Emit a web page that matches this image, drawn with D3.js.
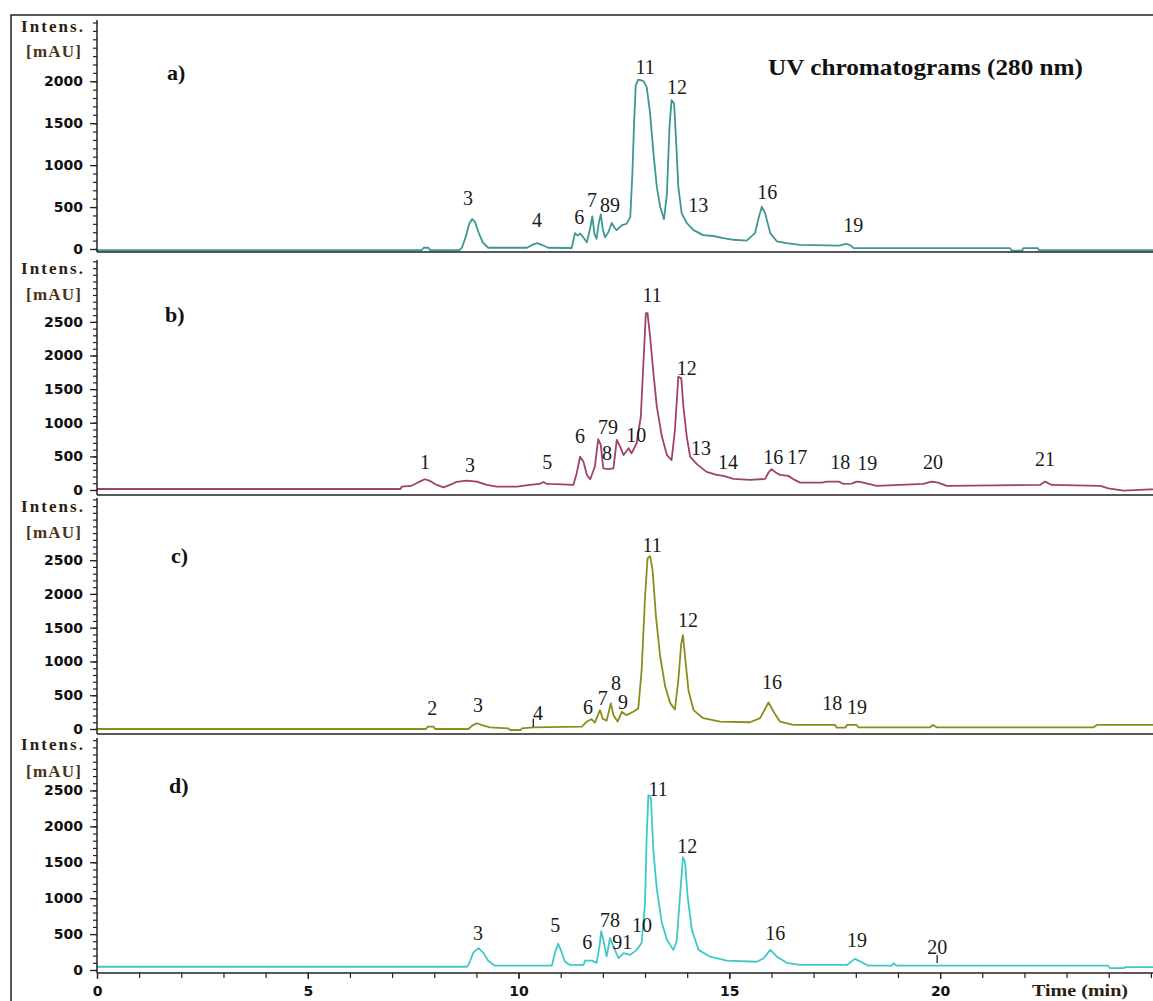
<!DOCTYPE html>
<html>
<head>
<meta charset="utf-8">
<script src="https://cdn.jsdelivr.net/npm/d3@7"></script>
<style>
  html, body { margin: 0; padding: 0; background: #fff; }
  svg { display: block; }
</style>
</head>
<body>
<svg id="chart" width="1153" height="1001"></svg>
<script>
// ---- Chromatogram traces: [retention time (min), intensity (mAU)] ----
const traceA = [
  [0, -15], [7.70, -15], [7.75, 15], [7.86, 15], [7.90, -15], [8.60, -15], [8.66, 20], [8.75, 150],
  [8.83, 300], [8.90, 357], [8.97, 320], [9.05, 200], [9.15, 80], [9.28, 15], [10.20, 15], [10.35, 55],
  [10.44, 70], [10.55, 50], [10.70, 15], [11.26, 12], [11.34, 190], [11.40, 160], [11.46, 185],
  [11.52, 150], [11.62, 80], [11.70, 250], [11.75, 390], [11.80, 180], [11.85, 120], [11.90, 300],
  [11.95, 415], [12.00, 230], [12.05, 140], [12.13, 200], [12.21, 310], [12.28, 250], [12.33, 225],
  [12.45, 285], [12.56, 300], [12.65, 380], [12.70, 900], [12.74, 1500], [12.78, 1950], [12.84, 2020],
  [12.96, 2005], [13.04, 1930], [13.12, 1620], [13.20, 1140], [13.28, 740], [13.36, 500], [13.45, 355],
  [13.52, 660], [13.58, 1456], [13.63, 1775], [13.69, 1735], [13.74, 1260], [13.79, 740], [13.87, 425],
  [13.99, 310], [14.15, 225], [14.38, 165], [14.62, 155], [14.86, 130], [15.10, 110], [15.41, 100],
  [15.61, 190], [15.70, 380], [15.77, 505], [15.85, 425], [15.97, 190], [16.13, 90], [16.36, 70],
  [16.68, 50], [17.60, 40], [17.72, 55], [17.79, 60], [17.88, 40], [17.95, 10], [21.66, 10],
  [21.70, -20], [21.95, -20], [21.97, 10], [22.32, 10], [22.35, -15], [25.05, -15]
];

const traceB = [
  [0, 15], [7.20, 15], [7.23, 50], [7.45, 60], [7.58, 100], [7.70, 140], [7.78, 160], [7.90, 135],
  [8.06, 75], [8.22, 40], [8.37, 75], [8.53, 120], [8.77, 140], [9.01, 125], [9.25, 75], [9.48, 50],
  [9.96, 50], [10.27, 75], [10.50, 90], [10.59, 120], [10.65, 95], [10.75, 90], [11.30, 75],
  [11.38, 250], [11.46, 495], [11.54, 420], [11.62, 225], [11.70, 160], [11.81, 345], [11.89, 755],
  [11.95, 670], [12.01, 320], [12.13, 310], [12.25, 320], [12.33, 745], [12.41, 645], [12.49, 520],
  [12.61, 620], [12.68, 545], [12.80, 695], [12.90, 1090], [12.96, 1860], [13.02, 2630], [13.06, 2630],
  [13.12, 2280], [13.20, 1735], [13.28, 1240], [13.40, 795], [13.52, 520], [13.63, 445], [13.71, 895],
  [13.79, 1685], [13.86, 1660], [13.91, 1240], [13.99, 795], [14.07, 495], [14.23, 385], [14.46, 270],
  [14.70, 225], [14.86, 210], [15.10, 165], [15.49, 150], [15.85, 165], [15.93, 260], [16.00, 310],
  [16.10, 260], [16.20, 225], [16.40, 210], [16.55, 150], [16.68, 110], [17.20, 110], [17.31, 125],
  [17.60, 125], [17.71, 90], [17.90, 95], [18.02, 125], [18.10, 120], [18.50, 60], [19.60, 90],
  [19.80, 125], [19.95, 110], [20.16, 60], [22.37, 75], [22.49, 125], [22.65, 75], [23.80, 60],
  [23.99, 25], [24.35, -10], [24.98, 10], [25.05, 10]
];

const traceC = [
  [0, 0], [7.80, 0], [7.85, 35], [7.98, 35], [8.02, 0], [8.81, 0], [8.90, 50], [9.01, 85], [9.17, 50],
  [9.32, 25], [9.76, 10], [9.80, -15], [10.05, -15], [10.08, 10], [10.35, 25], [11.50, 35], [11.62, 110],
  [11.73, 145], [11.81, 95], [11.93, 280], [12.00, 150], [12.09, 125], [12.19, 380], [12.25, 205],
  [12.35, 110], [12.45, 255], [12.56, 205], [12.72, 255], [12.84, 305], [12.92, 870], [13.00, 1955],
  [13.06, 2525], [13.12, 2560], [13.18, 2350], [13.26, 1660], [13.36, 1070], [13.48, 625], [13.60, 380],
  [13.71, 290], [13.79, 725], [13.86, 1270], [13.90, 1390], [13.95, 1070], [14.03, 575], [14.15, 280],
  [14.38, 160], [14.78, 110], [15.49, 100], [15.73, 160], [15.85, 300], [15.93, 395], [16.05, 255],
  [16.20, 110], [16.52, 60], [17.51, 60], [17.55, 20], [17.75, 20], [17.79, 60], [18.02, 60],
  [18.06, 25], [19.76, 25], [19.83, 60], [19.92, 25], [23.64, 25], [23.72, 60], [25.05, 60]
];

const traceD = [
  [0, 45], [8.77, 45], [8.81, 70], [8.93, 245], [9.05, 305], [9.17, 235], [9.28, 130], [9.44, 60],
  [10.79, 60], [10.87, 255], [10.94, 365], [11.02, 255], [11.10, 115], [11.22, 70], [11.54, 70],
  [11.58, 130], [11.74, 130], [11.85, 100], [11.92, 330], [11.96, 540], [12.01, 420], [12.09, 190],
  [12.17, 445], [12.25, 330], [12.37, 165], [12.49, 235], [12.65, 210], [12.80, 280], [12.92, 375],
  [13.00, 935], [13.04, 1870], [13.08, 2435], [13.14, 2390], [13.20, 1640], [13.28, 1125], [13.40, 655],
  [13.52, 420], [13.67, 280], [13.75, 400], [13.83, 1030], [13.90, 1570], [13.95, 1500], [14.01, 1030],
  [14.11, 560], [14.27, 280], [14.54, 185], [14.94, 130], [15.65, 115], [15.81, 160], [15.97, 280],
  [16.13, 185], [16.36, 100], [16.68, 70], [17.79, 70], [17.90, 120], [17.98, 155], [18.10, 120],
  [18.30, 60], [18.85, 60], [18.89, 95], [18.97, 60], [23.99, 60], [24.03, 25], [24.35, 25],
  [24.39, 40], [25.05, 40]
];

// ---- Peak numbers: [label, time (min), intensity (mAU) of label baseline] ----
const peaksA = [
  ["3", 8.80, 525], ["4", 10.44, 262], ["6", 11.44, 298], ["7", 11.74, 501], ["89", 12.17, 441],
  ["11", 13.00, 2086], ["12", 13.76, 1848], ["13", 14.26, 441], ["16", 15.90, 596], ["19", 17.94, 203]
];
const peaksB = [
  ["1", 7.78, 312], ["3", 8.85, 268], ["5", 10.68, 312], ["6", 11.46, 699], ["79", 12.12, 833],
  ["8", 12.10, 446], ["10", 12.79, 714], ["11", 13.17, 2796], ["12", 13.99, 1710], ["13", 14.33, 520],
  ["14", 14.97, 312], ["16", 16.04, 387], ["17", 16.61, 387], ["18", 17.63, 312], ["19", 18.27, 297],
  ["20", 19.83, 312], ["21", 22.49, 357]
];
const peaksC = [
  ["2", 7.95, 207], ["3", 9.04, 252], ["4", 10.46, 133], ["6", 11.65, 222], ["7", 12.00, 355],
  ["8", 12.31, 577], ["9", 12.48, 296], ["11", 13.17, 2621], ["12", 14.02, 1510], ["16", 16.01, 592],
  ["18", 17.44, 281], ["19", 18.03, 222]
];
const peaksD = [
  ["3", 9.04, 421], ["5", 10.87, 534], ["6", 11.63, 295], ["78", 12.17, 604], ["91", 12.46, 295],
  ["10", 12.93, 534], ["11", 13.31, 2429], ["12", 14.00, 1629], ["16", 16.09, 421], ["19", 18.03, 323],
  ["20", 19.93, 225]
];

// Integration markers: [time (min), low intensity, high intensity]
const markersC = [[10.35, 30, 150]];
const markersD = [[19.93, 98, 210]];

// Axis ticks
const timeMajorTicks = [0, 5, 10, 15, 20];
const timeMinorTicks = d3.range(0, 26, 1);
const panelNames = ["a)", "b)", "c)", "d)"];
const titleText = "UV chromatograms (280 nm)";

// ---- Layout ----
const svg = d3.select("#chart");
const axisLeftX = 97;
const x = d3.scaleLinear().domain([0, 25.05]).range([axisLeftX, 1153]);

const panels = [
  { trace: traceA, peaks: peaksA, markers: [], color: "#3c9893", yMax: 2730, labelMax: 2000,
    zeroY: 249, topY: 20, bottomY: 252, intensY: 32, mauY: 57, nameX: 167, nameY: 80 },
  { trace: traceB, peaks: peaksB, markers: [], color: "#a0406e", yMax: 3420, labelMax: 2500,
    zeroY: 490, topY: 260, bottomY: 495, intensY: 274, mauY: 300, nameX: 165, nameY: 322 },
  { trace: traceC, peaks: peaksC, markers: markersC, color: "#8c8c1c", yMax: 3420, labelMax: 2500,
    zeroY: 729, topY: 498, bottomY: 734, intensY: 512, mauY: 538, nameX: 171, nameY: 563 },
  { trace: traceD, peaks: peaksD, markers: markersD, color: "#3fc8c8", yMax: 3230, labelMax: 2500,
    zeroY: 970, topY: 738, bottomY: 973, intensY: 750, mauY: 777, nameX: 169, nameY: 793 }
];

// Outer frame (top and left edges)
svg.append("path")
  .attr("d", "M11,1001 L11,15 L1153,15")
  .attr("fill", "none").attr("stroke", "#222").attr("stroke-width", 1.5);

const line = d3.line().x(d => x(d[0]));

panels.forEach((p, i) => {
  const y = d3.scaleLinear().domain([0, p.yMax]).range([p.zeroY, p.topY]);
  const g = svg.append("g");

  // trace
  g.append("path")
    .datum(p.trace)
    .attr("d", line.y(d => y(d[1])))
    .attr("fill", "none")
    .attr("stroke", p.color)
    .attr("stroke-width", 1.8)
    .attr("stroke-linejoin", "round");

  // panel bottom line
  g.append("line")
    .attr("x1", axisLeftX).attr("x2", 1153)
    .attr("y1", p.bottomY).attr("y2", p.bottomY)
    .attr("stroke", "#222").attr("stroke-width", 1.6);

  // y axis line
  g.append("line")
    .attr("x1", axisLeftX).attr("x2", axisLeftX)
    .attr("y1", p.topY).attr("y2", p.bottomY)
    .attr("stroke", "#222").attr("stroke-width", 1.5);

  // minor ticks every 100 mAU
  const minor = g.append("g").attr("transform", `translate(${axisLeftX},0)`)
    .call(d3.axisLeft(y).tickValues(d3.range(0, p.yMax, 100)).tickSize(4).tickSizeOuter(0).tickFormat(""));
  minor.select(".domain").remove();
  minor.selectAll("line").attr("stroke", "#222").attr("stroke-width", 1.2);

  // major ticks with labels
  const major = g.append("g").attr("transform", `translate(${axisLeftX},0)`)
    .call(d3.axisLeft(y).tickValues(d3.range(0, p.labelMax + 1, 500)).tickSize(7).tickSizeOuter(0).tickPadding(7).tickFormat(d3.format("d")));
  major.select(".domain").remove();
  major.selectAll("line").attr("stroke", "#222").attr("stroke-width", 1.3);
  major.selectAll("text")
    .attr("font-family", "DejaVu Sans")
    .attr("font-weight", "bold")
    .attr("font-size", 14)
    .attr("fill", "#111");

  // axis title
  g.append("text")
    .attr("x", 21).attr("y", p.intensY)
    .attr("textLength", 62).attr("lengthAdjust", "spacing")
    .attr("font-family", "Liberation Serif").attr("font-weight", "bold").attr("font-size", 17)
    .attr("fill", "#2b1d10")
    .text("Intens.");
  g.append("text")
    .attr("x", 26).attr("y", p.mauY)
    .attr("textLength", 55).attr("lengthAdjust", "spacing")
    .attr("font-family", "Liberation Serif").attr("font-weight", "bold").attr("font-size", 17)
    .attr("fill", "#4a3216")
    .text("[mAU]");

  // panel name
  g.append("text")
    .attr("x", p.nameX).attr("y", p.nameY)
    .attr("font-family", "Liberation Serif").attr("font-weight", "bold").attr("font-size", 22)
    .attr("fill", "#111")
    .text(panelNames[i]);

  // integration markers
  g.selectAll("line.marker").data(p.markers).enter().append("line")
    .attr("class", "marker")
    .attr("x1", d => x(d[0])).attr("x2", d => x(d[0]))
    .attr("y1", d => y(d[1])).attr("y2", d => y(d[2]))
    .attr("stroke", "#222").attr("stroke-width", 1.3);

  // peak numbers
  g.selectAll("text.peak").data(p.peaks).enter().append("text")
    .attr("class", "peak")
    .attr("x", d => x(d[1]))
    .attr("y", d => y(d[2]))
    .attr("text-anchor", "middle")
    .attr("font-family", "Liberation Serif").attr("font-size", 20)
    .attr("fill", "#1a1a1a")
    .text(d => d[0]);
});

// Title
svg.append("text")
  .attr("x", 768).attr("y", 75)
  .attr("textLength", 315).attr("lengthAdjust", "spacingAndGlyphs")
  .attr("font-family", "Liberation Serif").attr("font-weight", "bold").attr("font-size", 24)
  .attr("fill", "#111")
  .text(titleText);

// Time axis
const bottomY = panels[3].bottomY;
const xMinor = svg.append("g").attr("transform", `translate(0,${bottomY})`)
  .call(d3.axisBottom(x).tickValues(timeMinorTicks).tickSize(5).tickSizeOuter(0).tickFormat(""));
xMinor.select(".domain").remove();
xMinor.selectAll("line").attr("stroke", "#222").attr("stroke-width", 1.2);

const xMajor = svg.append("g").attr("transform", `translate(0,${bottomY})`)
  .call(d3.axisBottom(x).tickValues(timeMajorTicks).tickSize(6).tickSizeOuter(0).tickPadding(7).tickFormat(d3.format("d")));
xMajor.select(".domain").remove();
xMajor.selectAll("line").attr("stroke", "#222").attr("stroke-width", 1.3);
xMajor.selectAll("text")
  .attr("font-family", "DejaVu Sans").attr("font-weight", "bold").attr("font-size", 14).attr("fill", "#111");

svg.append("text")
  .attr("x", 1032).attr("y", 996)
  .attr("textLength", 96).attr("lengthAdjust", "spacingAndGlyphs")
  .attr("font-family", "Liberation Serif").attr("font-weight", "bold").attr("font-size", 17)
  .attr("fill", "#2b1d10")
  .text("Time (min)");
</script>
</body>
</html>
